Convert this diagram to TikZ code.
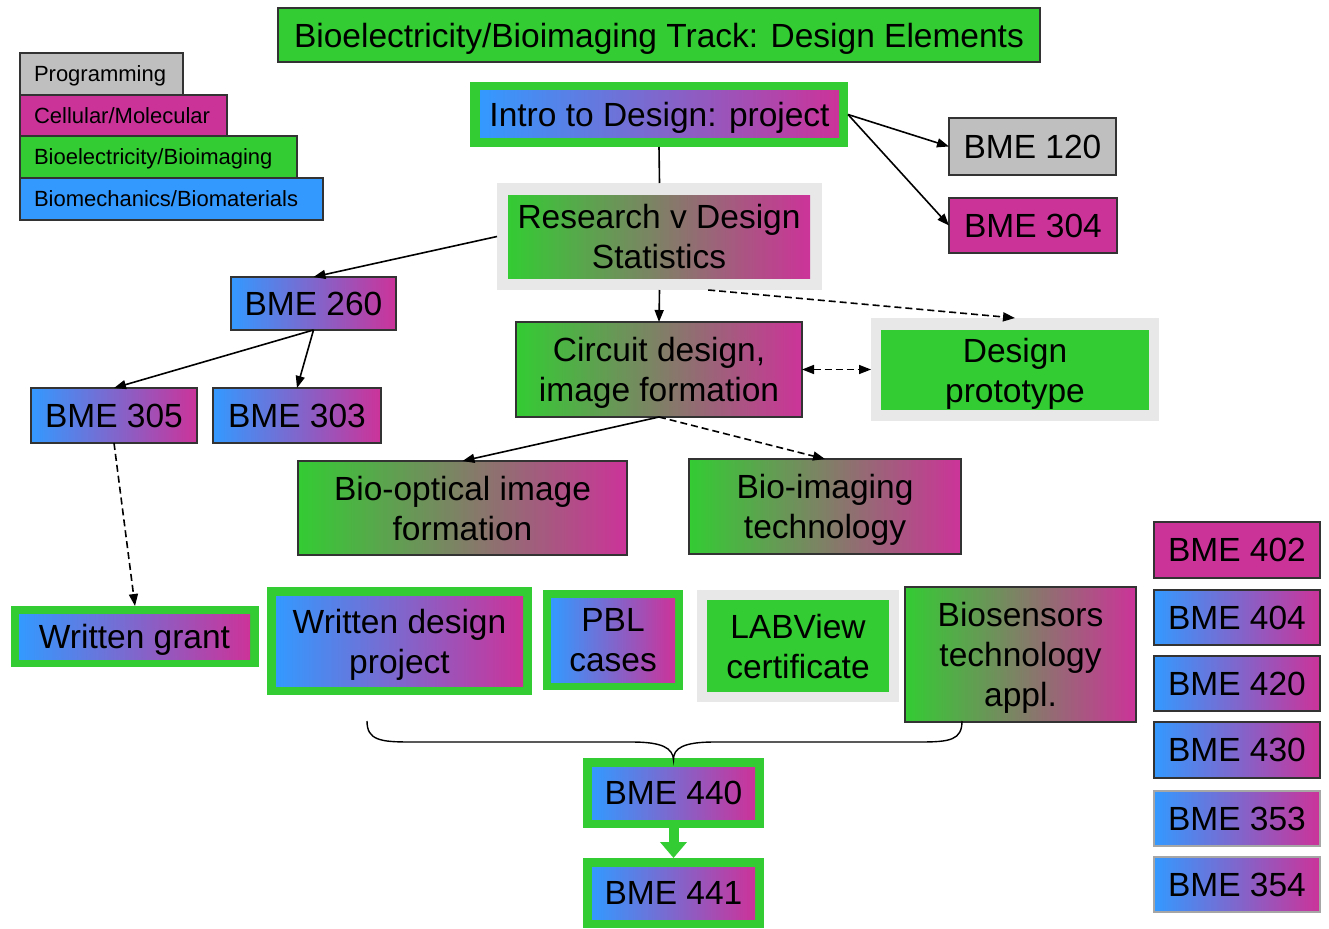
\documentclass[tikz,border=0pt]{standalone}
\usepackage{fontspec}
\setmainfont{Liberation Sans}
\usetikzlibrary{arrows.meta,calc}
\definecolor{bgreen}{HTML}{33CC33}
\definecolor{bmag}{HTML}{CC3399}
\definecolor{bblue}{HTML}{3399FF}
\definecolor{bgray}{HTML}{BFBFBF}
\definecolor{lgray}{HTML}{E8E8E8}
\definecolor{bord}{HTML}{333333}
\begin{document}
\begin{tikzpicture}[x=1pt,y=-1pt,
  every node/.style={inner sep=0pt, outer sep=0pt, align=center, text depth=0pt, font=\fontsize{33.5}{40}\selectfont},
  box/.style={draw=bord, line width=1.2pt, rectangle},
  gradBM/.style={left color=bblue, right color=bmag},
  gradGM/.style={left color=bgreen, right color=bmag},
  gframe/.style={fill=bgreen},
  wframe/.style={fill=lgray},
  legendbox/.style={box, anchor=north west, minimum height=42pt, inner xsep=14pt, align=left, font=\fontsize{22}{26}\selectfont},
  arr/.style={line width=1.6pt, -{Triangle[length=12pt,width=9pt]}},
  darr/.style={arr, dash pattern=on 7pt off 4pt},
  ddarr/.style={line width=1.6pt, dash pattern=on 7pt off 4pt, {Triangle[length=12pt,width=9pt]}-{Triangle[length=12pt,width=9pt]}},
  sz/.style 2 args={minimum width=#1pt, minimum height=#2pt}
]
\useasboundingbox (0,0) rectangle (1329,928);

% legend
\node[legendbox, fill=bgray, text width=135pt] (lprog) at (20,53) {Programming};
\node[legendbox, fill=bmag, text width=179pt] (lcell) at (20,95) {Cellular/Molecular};
\node[legendbox, fill=bgreen, text width=249pt] (lbio) at (20,136) {Bioelectricity/Bioimaging};
\node[legendbox, fill=bblue, text width=275pt] (lmech) at (20,178) {Biomechanics/Biomaterials};

% title
\node[box, fill=bgreen, sz={762}{54}] (title) at (659,35) {Bioelectricity/Bioimaging Track: Design Elements};

% intro
\node[gframe, sz={378}{65}] (intro) at (659,114.5) {};
\node[gradBM, sz={359}{47}] (introin) at (659.5,114.5) {Intro to Design: project};

\node[box, fill=bgray, sz={167}{57}] (b120) at (1032.5,146.5) {BME 120};
\node[box, fill=bmag, sz={168}{55}] (b304) at (1033,225.5) {BME 304};

% research
\node[wframe, sz={325}{107}] (research) at (659.5,236.5) {};
\node[gradGM, sz={302}{83}] (researchin) at (659,236.5) {Research v Design\\Statistics};

\node[box, gradBM, sz={165}{53}] (b260) at (313.5,303.5) {BME 260};
\node[box, gradBM, sz={166}{55}] (b305) at (114,415.5) {BME 305};
\node[box, gradBM, sz={168}{55}] (b303) at (297,415.5) {BME 303};

\node[box, gradGM, sz={286}{95}] (circuit) at (659,369.5) {Circuit design,\\image formation};

\node[wframe, sz={288}{103}] (proto) at (1015,369.5) {};
\node[fill=bgreen, sz={268}{80}] (protoin) at (1015,370) {Design\\prototype};

\node[box, gradGM, sz={329}{94}] (bioopt) at (462.5,508) {Bio-optical image\\formation};
\node[box, gradGM, sz={272}{95}] (bioimg) at (825,506.5) {Bio-imaging\\technology};

% bottom row
\node[gframe, sz={248}{61}] (grant) at (135,636.5) {};
\node[gradBM, sz={231}{45}] (grantin) at (134.5,636.5) {Written grant};

\node[gframe, sz={265}{108}] (wdp) at (399.5,641) {};
\node[gradBM, sz={247}{90}] (wdpin) at (399.5,641) {Written design\\project};

\node[gframe, sz={140}{100}] (pbl) at (613,640) {};
\node[gradBM, sz={124}{84}] (pblin) at (613,640) {PBL\\cases};

\node[wframe, sz={202}{112}] (lab) at (798,646) {};
\node[fill=bgreen, sz={182}{92}] (labin) at (798,646) {LABView\\certificate};

\node[box, gradGM, sz={231}{135}] (biosens) at (1020.5,654.5) {Biosensors\\technology\\appl.};

% capstone
\node[gframe, sz={181}{70}] (b440) at (673.5,793) {};
\node[gradBM, sz={163}{52}] (b440in) at (673.5,793) {BME 440};
\node[gframe, sz={181}{70}] (b441) at (673.5,893) {};
\node[gradBM, sz={163}{52}] (b441in) at (673.5,893) {BME 441};

% right column
\node[box, fill=bmag, sz={166}{56}] (b402) at (1237,550) {BME 402};
\node[box, gradBM, sz={166}{55}] (b404) at (1237,617.5) {BME 404};
\node[box, gradBM, sz={166}{55}] (b420) at (1237,683.5) {BME 420};
\node[box, gradBM, sz={166}{56}] (b430) at (1237,750) {BME 430};
\node[box, draw=gray!70, gradBM, sz={166}{55}] (b353) at (1237,818.5) {BME 353};
\node[box, draw=gray!70, gradBM, sz={166}{55}] (b354) at (1237,884.5) {BME 354};

% connectors
\draw[arr] (intro.east) -- (b120.west);
\draw[arr] (intro.east) -- (b304.west);
\draw[line width=1.6pt] (intro.south) -- (research.north);
\draw[arr] (research.west) -- (b260.north);
\draw[arr] (b260.south) -- (b305.north);
\draw[arr] (b260.south) -- (b303.north);
\draw[arr] (research.south) -- (circuit.north);
\coordinate (rs) at ($(research.south)!0.3!(research.south east)$);
\draw[darr] (rs) -- (proto.north);
\draw[ddarr] (circuit.east) -- (proto.west);
\draw[arr] (circuit.south) -- (bioopt.north);
\draw[darr] (circuit.south) -- (bioimg.north);
\draw[darr] (b305.south) -- (grant.north);

% brace
\coordinate (brtip) at ($(b440.north)+(0,2)$);
\draw[line width=1.4pt] (367,721) .. controls (367,740) and (380,742) .. (410,742) -- (632,742)
  .. controls (662,742) and (673,748) .. (brtip)
  .. controls (673,748) and (684,742) .. (714,742) -- (920,742)
  .. controls (950,742) and (962,740) .. (962,721);

% green arrow
\draw[bgreen, line width=10pt, -{Triangle[length=16pt,width=26pt]}] (b440.south) -- (b441.north);
\end{tikzpicture}
\end{document}
